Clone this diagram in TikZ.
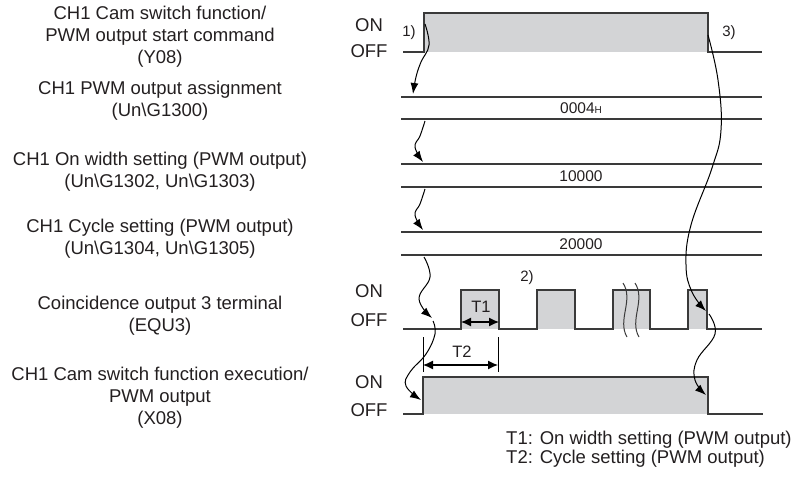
\documentclass[tikz,border=0pt]{standalone}
\usepackage{fontspec}
\setmainfont{Liberation Sans}
\usetikzlibrary{arrows.meta}
\definecolor{sig}{HTML}{3A3A3A}
\definecolor{fillg}{HTML}{D3D4D6}
\definecolor{txt}{HTML}{231F20}
\begin{document}
\begin{tikzpicture}[x=1pt,y=-1pt,
  lab/.style={align=center,inner sep=0pt,text=txt,font=\fontsize{18.5}{22}\selectfont},
  onoff/.style={inner sep=0pt,text=txt,font=\fontsize{18.5}{22}\selectfont},
  val/.style={inner sep=0pt,text=txt,font=\fontsize{15.5}{18}\selectfont},
  small/.style={inner sep=0pt,text=txt,font=\fontsize{15}{18}\selectfont},
  legend/.style={inner sep=0pt,anchor=west,text=txt,font=\fontsize{18.5}{22}\selectfont},
  sigline/.style={draw=sig,line width=1.3pt},
  wav/.style={draw=black,line width=1pt,-{Latex[length=11pt,width=8pt]}},
  dim/.style={draw=black,line width=1.2pt,{Latex[length=10pt,width=9pt]}-{Latex[length=10pt,width=9pt]}}]
\useasboundingbox (0,0) rectangle (793,477);

% left labels
\node[lab] (lY) at (160,37) {CH1 Cam switch function/\\PWM output start command\\(Y08)};
\node[lab] (lA) at (160,101) {CH1 PWM output assignment\\(Un\textbackslash G1300)};
\node[lab] (lB) at (160,172) {CH1 On width setting (PWM output)\\(Un\textbackslash G1302, Un\textbackslash G1303)};
\node[lab] (lC) at (160,239) {CH1 Cycle setting (PWM output)\\(Un\textbackslash G1304, Un\textbackslash G1305)};
\node[lab] (lD) at (160,316) {Coincidence output 3 terminal\\(EQU3)};
\node[lab] (lE) at (160,398) {CH1 Cam switch function execution/\\PWM output\\(X08)};

% ON / OFF
\node[onoff] (onY) at (369,25) {ON};
\node[onoff] (offY) at (369,51) {OFF};
\node[onoff] (onD) at (369,291) {ON};
\node[onoff] (offD) at (369,320) {OFF};
\node[onoff] (onE) at (369,382) {ON};
\node[onoff] (offE) at (369,410) {OFF};

% Y08 signal
\fill[fillg] (424,13) rectangle (708,52);
\draw[sigline] (403,52) -- (424,52) -- (424,13) -- (708,13) -- (708,52) -- (762,52);

% data bands
\draw[sigline] (401,97) -- (762,97);
\draw[sigline] (401,119) -- (762,119);
\draw[sigline] (401,164) -- (762,164);
\draw[sigline] (401,187) -- (762,187);
\draw[sigline] (401,232) -- (762,232);
\draw[sigline] (401,255) -- (762,255);
\node[val] (vA) at (581,108) {0004{\fontsize{10}{10}\selectfont H}};
\node[val] (vB) at (581,176) {10000};
\node[val] (vC) at (581,244) {20000};

% EQU3 signal
\fill[fillg] (461,290) rectangle (499,329);
\fill[fillg] (537,290) rectangle (575,329);
\fill[fillg] (613,290) rectangle (650,329);
\fill[fillg] (688,290) rectangle (707,329);
\draw[sigline] (403,329) -- (461,329) -- (461,290) -- (499,290) -- (499,329)
  -- (537,329) -- (537,290) -- (575,290) -- (575,329)
  -- (613,329) -- (613,290) -- (650,290) -- (650,329)
  -- (688,329) -- (688,290) -- (707,290) -- (707,329) -- (762,329);
% break marks
\draw[draw=sig,line width=1pt] (623,283) .. controls (634,300) and (617,320) .. (627,337);
\draw[draw=sig,line width=1pt] (635,283) .. controls (646,300) and (629,320) .. (639,337);

% X08 signal
\fill[fillg] (423,377) rectangle (708,414);
\draw[sigline] (403,414) -- (423,414) -- (423,377) -- (708,377) -- (708,414) -- (763,414);

% T1 / T2 dimensions
\coordinate (t1a) at (461,322);
\coordinate (t1b) at (499,322);
\draw[dim] (t1a) -- (t1b);
\node[small,font=\fontsize{16.5}{18}\selectfont] (T1) at (481,307) {T1};
\coordinate (k1a) at (423,337); \coordinate (k1b) at (423,372);
\coordinate (k2a) at (498,337); \coordinate (k2b) at (498,372);
\draw[draw=black,line width=1pt] (k1a) -- (k1b);
\draw[draw=black,line width=1pt] (k2a) -- (k2b);
\coordinate (t2a) at (423,365);
\coordinate (t2b) at (498,365);
\draw[dim] (t2a) -- (t2b);
\node[small,font=\fontsize{16.5}{18}\selectfont] (T2) at (462,352) {T2};

% step labels
\node[small] (n1) at (409,33) {1)};
\node[small] (n3) at (729,33) {3)};
\node[small] (n2) at (527,278) {2)};

% causality arrows
\coordinate (a1s) at (425,24);  \coordinate (a1e) at (413,94);
\coordinate (a2s) at (425,121); \coordinate (a2e) at (423,162);
\coordinate (a3s) at (425,189); \coordinate (a3e) at (423,230);
\coordinate (a4s) at (424,257); \coordinate (a4e) at (432,318);
\coordinate (a5s) at (433,321); \coordinate (a5e) at (421,400);
\coordinate (a6s) at (708,35);  \coordinate (a6e) at (706,311);
\coordinate (a7s) at (709,314); \coordinate (a7e) at (706,395);
\draw[wav] plot[smooth,tension=0.7] coordinates {(a1s) (429,45) (421,62) (416,77) (a1e)};
\draw[wav] plot[smooth,tension=0.7] coordinates {(a2s) (420,136) (415,147) (a2e)};
\draw[wav] plot[smooth,tension=0.7] coordinates {(a3s) (420,204) (415,215) (a3e)};
\draw[wav] plot[smooth,tension=0.7] coordinates {(a4s) (430,277) (419,299) (a4e)};
\draw[wav] plot[smooth,tension=0.7] coordinates {(a5s) (435,334) (426,354) (410,372) (406,386) (a5e)};
\draw[wav] plot[smooth,tension=0.7] coordinates {(a6s) (718,80) (721,130) (712,168) (691,225) (686,265) (692,292) (a6e)};
\draw[wav] plot[smooth,tension=0.7] coordinates {(a7s) (715,334) (697,360) (695,380) (a7e)};

% legend
\node[legend] (lg1) at (506,440) {T1: On width setting (PWM output)};
\node[legend] (lg2) at (506,459) {T2: Cycle setting (PWM output)};
\end{tikzpicture}
\end{document}
